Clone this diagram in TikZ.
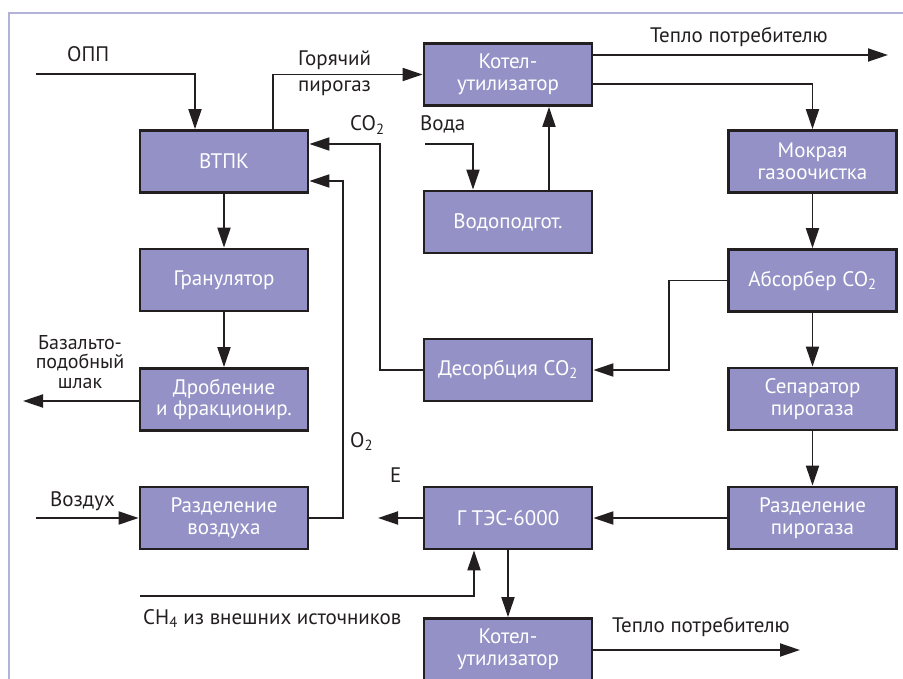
\documentclass[tikz,border=0pt]{standalone}
\usepackage{fontspec}
\setmainfont{PT Sans}
\usetikzlibrary{arrows.meta,calc}
\definecolor{boxfill}{HTML}{9391C5}
\definecolor{boxline}{HTML}{231F20}
\definecolor{framec}{HTML}{B3B3DA}
\tikzset{
  box/.style={draw=boxline, line width=2.8pt, fill=boxfill, minimum width=168pt, minimum height=62pt,
    inner sep=0pt, align=center, text=white, font=\fontsize{21}{21.5}\selectfont},
  arr/.style={draw=boxline, line width=1.9pt, -{Triangle[length=20pt,width=13pt]}},
  lbl/.style={inner sep=0pt, font=\fontsize{21}{19}\selectfont, text=boxline}
}
\begin{document}
\begin{tikzpicture}[x=1pt,y=-1pt]
\useasboundingbox (0,0) rectangle (903,679);
\draw[framec, line width=2pt] (9,700) -- (9,13) -- (920,13);
% boxes
\node[box] (vtpk) at (224,161.5) {ВТПК};
\node[box] (kot1) at (508,74.5) {Котел-\\утилизатор};
\node[box] (vod) at (508,222) {Водоподгот.};
\node[box] (mok) at (812.5,161.5) {Мокрая\\газоочистка};
\node[box] (gran) at (224,280) {Гранулятор};
\node[box] (drob) at (224,399.5) {Дробление\\и фракционир.};
\node[box] (abs) at (812.5,280.5) {Абсорбер CO\textsubscript{2}};
\node[box] (des) at (508,370) {Десорбция CO\textsubscript{2}};
\node[box] (sep) at (812.5,399) {Сепаратор\\пирогаза};
\node[box] (rv) at (224,518) {Разделение\\воздуха};
\node[box] (gtes) at (508,518) {Г ТЭС-6000};
\node[box] (rp) at (812.5,518) {Разделение\\пирогаза};
\node[box] (kot2) at (508,649.5) {Котел-\\утилизатор};
% free ends
\coordinate (opp) at (36,74);
\coordinate (vodain) at (425,144);
\coordinate (teplo1) at (888,55);
\coordinate (teplo2) at (800,650);
\coordinate (slag) at (23,401);
\coordinate (air) at (36,518);
\coordinate (eout) at (378,518);
\coordinate (ch4) at (140,596);
% connectors
\draw[arr] (opp) -| (vtpk.north -| 195,0);
\draw[arr] (vtpk.north -| 273,0) |- (kot1.west);
\draw[arr] (des.west) -| (380,144) -- (vtpk.east |- 0,144);
\draw[arr] (rv.east) -| (343,181) -- (vtpk.east |- 0,181);
\draw[arr] (vodain) -| (vod.north -| 473,0);
\draw[arr] (vod.north -| 549,0) -- (kot1.south -| 549,0);
\draw[arr] (kot1.east |- 0,55) -- (teplo1);
\draw[arr] (kot1.east |- 0,84) -| (mok.north);
\draw[arr] (mok) -- (abs);
\draw[arr] (abs.west) -- (abs.west -| 669,0) |- (des.east);
\draw[arr] (abs) -- (sep);
\draw[arr] (sep) -- (rp);
\draw[arr] (rp) -- (gtes);
\draw[arr] (gtes.west) -- (eout);
\draw[arr] (gtes.south) -- (kot2.north);
\draw[arr] (ch4) -| (gtes.south -| 474,0);
\draw[arr] (kot2.east |- 0,650) -- (teplo2);
\draw[arr] (air) -- (rv.west);
\draw[arr] (vtpk) -- (gran);
\draw[arr] (gran) -- (drob);
\draw[arr] (drob.west |- 0,401) -- (slag);
% labels
\node[lbl, anchor=base west] at (67,62) {ОПП};
\node[lbl, anchor=base west, align=left, font=\fontsize{21}{26}\selectfont] at (298,92) {Горячий\\пирогаз};
\node[lbl, anchor=base west] at (350,131) {CO\textsubscript{2}};
\node[lbl, anchor=base west] at (420,131) {Вода};
\node[lbl, anchor=base west] at (650,43) {Тепло потребителю};
\node[lbl, anchor=base, align=center, font=\fontsize{20}{19.5}\selectfont] at (80,388) {Базальто-\\подобный\\шлак};
\node[lbl, anchor=base west] at (350,447) {O\textsubscript{2}};
\node[lbl, anchor=base west] at (390,482) {E};
\node[lbl, anchor=base west] at (50,506) {Воздух};
\node[lbl, anchor=base west] at (143,624) {CH\textsubscript{4} из внешних источников};
\node[lbl, anchor=base west] at (612,632) {Тепло потребителю};
\end{tikzpicture}
\end{document}
